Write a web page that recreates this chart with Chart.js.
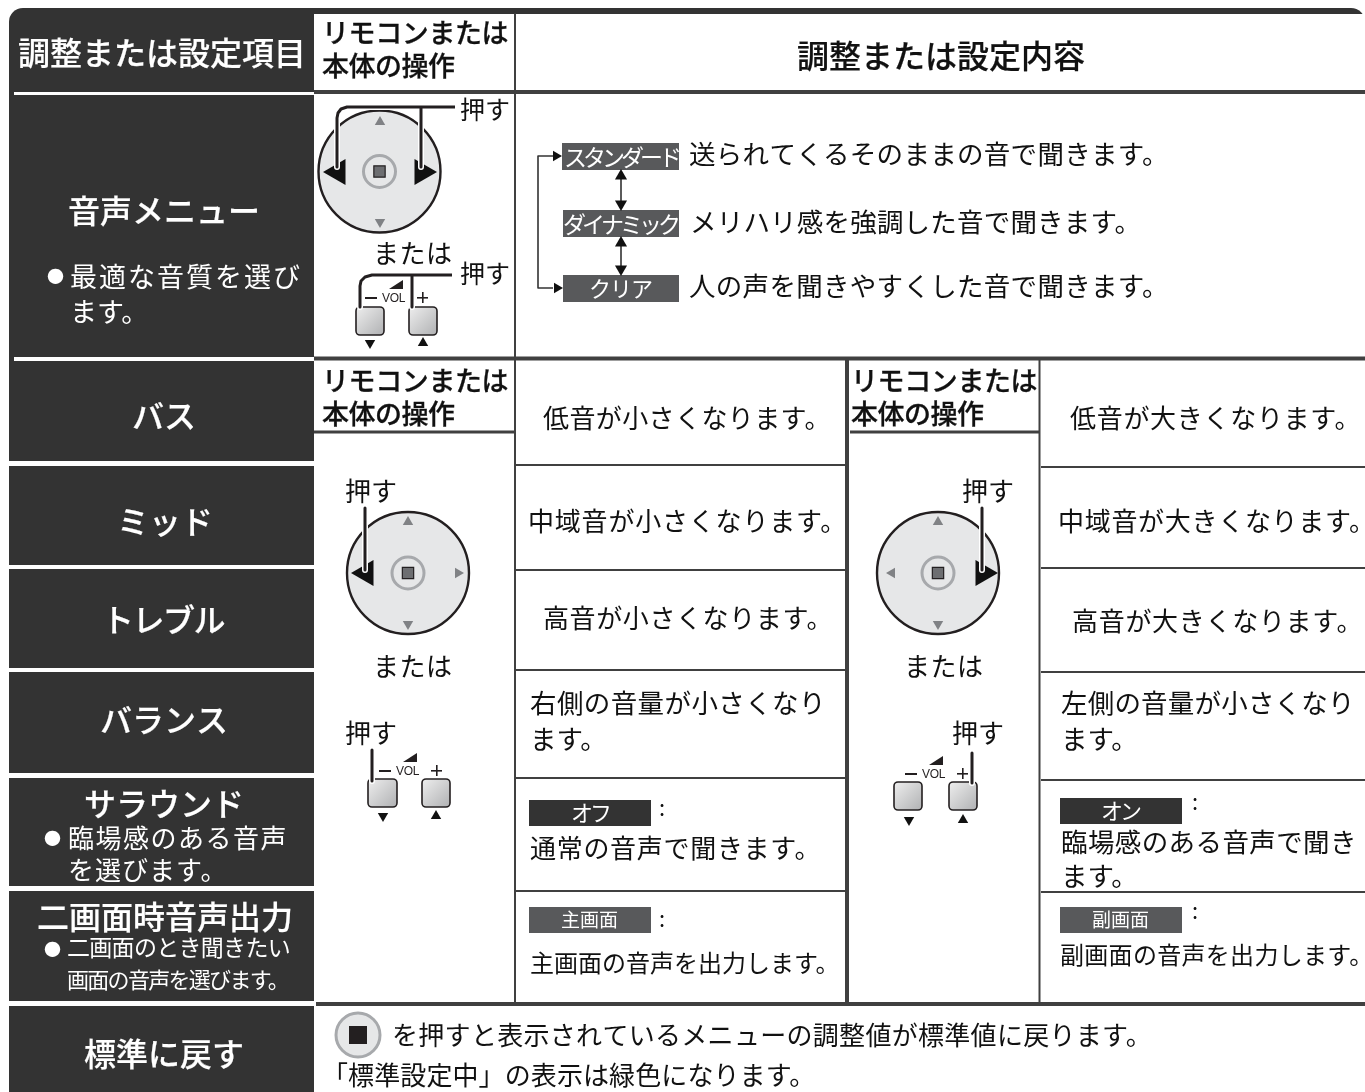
<!DOCTYPE html>
<html lang="ja"><head><meta charset="utf-8">
<style>html,body{margin:0;padding:0;background:#fff}#w{position:relative;width:1365px;height:1092px;overflow:hidden}</style>
<script src="https://cdn.jsdelivr.net/npm/chart.js@4/dist/chart.umd.min.js"></script>
</head><body><div id="w"><canvas id="c" width="1365" height="1092"></canvas></div>
<script>
// ---- content ----
const headerItem = "調整または設定項目";
const headerOp = ["リモコンまたは", "本体の操作"];
const headerContent = "調整または設定内容";
const itemLabels = ["音声メニュー", "バス", "ミッド", "トレブル", "バランス", "サラウンド", "二画面時音声出力", "標準に戻す"];
const itemNotes = ["最適な音質を選び", "ます。", "臨場感のある音声", "を選びます。", "二画面のとき聞きたい", "画面の音声を選びます。"];
const press = "押す";
const orText = "または";
const modes = ["スタンダード", "ダイナミック", "クリア"];
const modeDesc = ["送られてくるそのままの音で聞きます。", "メリハリ感を強調した音で聞きます。", "人の声を聞きやすくした音で聞きます。"];
const lowerDesc = ["低音が小さくなります。", "中域音が小さくなります。", "高音が小さくなります。", "右側の音量が小さくなり", "ます。", "通常の音声で聞きます。", "主画面の音声を出力します。"];
const raiseDesc = ["低音が大きくなります。", "中域音が大きくなります。", "高音が大きくなります。", "左側の音量が小さくなり", "ます。", "臨場感のある音声で聞き", "ます。", "副画面の音声を出力します。"];
const tags = ["オフ", "主画面", "オン", "副画面"];
const resetNotes = ["を押すと表示されているメニューの調整値が標準値に戻ります。", "「標準設定中」の表示は緑色になります。"];

// ---- layout (in axis units) ----
const DARK = "#333333", MID = "#58595b", INK = "#231f20", FACE = "#e6e7e8", GREY = "#808285";
const FONT = '"Noto Sans CJK JP","Noto Sans",sans-serif';
const seg = list => list.flatMap(([a, b, c, d]) => [{x:a,y:b},{x:c,y:d},{x:null,y:null}]);
const poly = list => list.flatMap(p => [...p.map(([x,y]) => ({x,y})), {x:null,y:null}]);
const lineDS = (data, color, width, order) => ({type:"scatter", showLine:true, data, borderColor:color, borderWidth:width, pointRadius:0, order, spanGaps:false, tension:0, fill:false, borderCapStyle:"butt", borderJoinStyle:"round"});
const ptDS = (pts, style, r, rot, bg, border, bw, order) => ({type:"scatter", showLine:false, data:pts.map(([x,y]) => ({x,y})), pointStyle:style, pointRadius:r, pointRotation:rot, pointBackgroundColor:bg, pointBorderColor:border, pointBorderWidth:bw, order});

const thick = seg([[314,92,1365,92],[314,358.5,1365,358.5],[316,1004,1365,1004]]);
const heavyV = seg([[847,360,847,1003]]);
const thinV = seg([[515,14,515,92],[515,94,515,1003],[1039.5,360,1039.5,1003]]);
const thinH = seg([[516,465,845,465],[516,570,845,570],[516,670,845,670],[516,778,845,778],[516,891,845,891],
  [1041,467,1365,467],[1041,568,1365,568],[1041,672,1365,672],[1041,780,1365,780],[1041,892,1365,892]]);
const opRule = seg([[314,432,515,432],[850,432,1039,432]]);
const wires = poly([
  [[455,107],[347,107],[341,109],[338,113],[337,118],[337,167]],
  [[421,107],[421,167]],
  [[452,275],[372,275],[365,277],[361,281],[360,286],[360,307]],
  [[412,275],[412,307]],
  [[365,508],[365,570]],
  [[372,750],[372,781]],
  [[982,508],[982,570]],
  [[972,753],[972,783]]
]);
const flowWires = poly([[[553,156],[538,156],[538,288],[553,288]],[[621,178],[621,204]],[[621,244],[621,268]]]);
const dials = [[379.5,171.5],[408,573],[938,573]];
const bigL = [[338,172],[366,573]];
const bigR = [[422,172],[983,573]];
const smallU = [[380,122],[408,522],[938,522]];
const smallD = [[380,222],[408,624],[938,624]];
const smallL = [[892,573]];
const smallR = [[458,573]];
const blackD = [[370,343],[383,816],[909,820]];
const blackU = [[423,343],[436,816],[963,820]];
const flowU = [[621,176],[621,243]];
const flowD = [[621,204],[621,269]];
const flowR = [[556,156]];
const flowRb = [[557,288]];

const panels = [[14,95,314,357],[9,361,314,461],[9,466,314,565],[9,569,314,668],[9,672,314,773],[9,778,314,886],[9,891,314,1001],[9,1006,314,1092]];
const tagBoxes = [[562,143,679,170,MID],[563,210,679,237,MID],[563,275,679,302,MID],[529,800,651,826,DARK],[529,907,651,933,MID],[1060,798,1182,824,DARK],[1060,907,1182,933,MID]];
const keys = [[356,307,384,335],[409,307,437,335],[368,779,397,807],[422,779,450,807],[894,782,922,810],[949,782,977,810]];
const volMarks = [[370,298],[384,771],[910,774]];

const HEAD = "#fff";
const texts = [
  [headerItem,18,53,32,32,HEAD,500,.2],
  [headerOp[0],322,33,26.6,27,"#111",500,.3],[headerOp[1],322,66,26.5,27,"#111",500,.3],
  [headerContent,797,56,32,32,"#111",500,.2],
  [itemLabels[0],68,211,32,32,HEAD,500,.2],
  ["●",47,277,16,17,"#fff",400,0],[itemNotes[0],70,277,29,27,"#fff",400,0],[itemNotes[1],70,312,27,27,"#fff",400,0],
  [itemLabels[1],132,416,32,32,HEAD,500,.2],[itemLabels[2],117,522,32,32,HEAD,500,.2],[itemLabels[3],102,620,30.5,32,HEAD,500,.2],[itemLabels[4],100,720,32,32,HEAD,500,.2],
  [itemLabels[5],84,804,32,32,HEAD,500,.2],
  ["●",44,839,16,17,"#fff",400,0],[itemNotes[2],68,838,27.5,26,"#fff",400,0],[itemNotes[3],68,870,27,26,"#fff",400,0],
  [itemLabels[6],37,917,32,32,HEAD,500,.2],
  ["●",44,950,16,17,"#fff",400,0],[itemNotes[4],67,947,22.3,23,"#fff",400,0],[itemNotes[5],67,980,20.3,22,"#fff",400,0],
  [itemLabels[7],84,1054,32,32,HEAD,500,.2],
  [press,460,109,25,25,"#111",400,0],[orText,373,253,26.5,26,"#111",400,0],[press,460,273,25,25,"#111",400,0],
  [modes[0],564,157,19,23,"#fff",400,0],[modes[1],563,224,19,23,"#fff",400,0],[modes[2],589,289,21,22,"#fff",400,0],
  [modeDesc[0],689,154,26.8,26.5,"#111",400,0],[modeDesc[1],690,222,26.7,26.5,"#111",400,0],[modeDesc[2],689,286,26.8,26.5,"#111",400,0],
  [headerOp[0],322,381,26.6,27,"#111",500,.3],[headerOp[1],322,414,26.5,27,"#111",500,.3],
  [headerOp[0],851,381,26.6,27,"#111",500,.3],[headerOp[1],851,414,26.5,27,"#111",500,.3],
  [lowerDesc[0],543,418,26.4,26,"#111",400,0],[lowerDesc[1],528,521,26.8,26,"#111",400,0],[lowerDesc[2],543,618,26.6,26,"#111",400,0],
  [lowerDesc[3],530,703,26.9,26.5,"#111",400,0],[lowerDesc[4],530,739,26.5,26.5,"#111",400,0],
  [lowerDesc[5],530,848,26.7,26,"#111",400,0],[lowerDesc[6],530,963,24,24,"#111",400,0],
  [raiseDesc[0],1070,418,26.7,26,"#111",400,0],[raiseDesc[1],1058,521,26.7,26,"#111",400,0],[raiseDesc[2],1072,621,26.7,26,"#111",400,0],
  [raiseDesc[3],1061,703,26.7,26.5,"#111",400,0],[raiseDesc[4],1061,739,26.5,26.5,"#111",400,0],
  [raiseDesc[5],1061,842,26.9,26.5,"#111",400,0],[raiseDesc[6],1061,876,26.5,26.5,"#111",400,0],[raiseDesc[7],1060,955,24.3,24,"#111",400,0],
  [press,345,491,26,26,"#111",400,0],[orText,373,666,26.5,26,"#111",400,0],[press,345,733,26,26,"#111",400,0],
  [press,962,491,26,26,"#111",400,0],[orText,904,666,26.5,26,"#111",400,0],[press,952,733,26,26,"#111",400,0],
  [tags[0],571,813,19,22,"#fff",400,0],[tags[1],561,920,19,19,"#fff",400,0],[tags[2],1101,811,19,22,"#fff",400,0],[tags[3],1092,920,19,19,"#fff",400,0],
  [":",659,808,8,22,"#111",400,0],[":",659,919,8,22,"#111",400,0],[":",1192,802,8,22,"#111",400,0],[":",1192,911,8,22,"#111",400,0],
  [resetNotes[0],392,1035,26.3,26,"#111",400,0],[resetNotes[1],322,1075,26.1,26,"#111",400,0]
];
const vols = ["VOL","VOL","VOL"];

const sketchPlugin = {
  id:"sketch",
  beforeDatasetsDraw(chart){
    const {ctx, scales:{x,y}} = chart;
    const X = v => x.getPixelForValue(v), Y = v => y.getPixelForValue(v);
    ctx.save();
    ctx.fillStyle = DARK;
    ctx.beginPath(); ctx.roundRect(X(9),Y(8),X(1365)-X(9),Y(92)-Y(8),[14,14,0,0]); ctx.fill();
    ctx.fillStyle = "#fff";
    ctx.fillRect(X(314),Y(14),X(1365)-X(314),Y(90)-Y(14));
    ctx.fillStyle = DARK;
    panels.forEach(([a,b,c,d]) => ctx.fillRect(X(a),Y(b),X(c)-X(a),Y(d)-Y(b)));
    ctx.fillRect(X(9),Y(92),X(14)-X(9),Y(361)-Y(92));
    tagBoxes.forEach(([a,b,c,d,col]) => {ctx.fillStyle = col; ctx.fillRect(X(a),Y(b),X(c)-X(a),Y(d)-Y(b));});
    keys.forEach(([a,b,c,d]) => {
      const g = ctx.createLinearGradient(X(a),Y(b),X(c),Y(d));
      g.addColorStop(0,"#eeeeee"); g.addColorStop(1,"#b0b1b3");
      ctx.fillStyle = g; ctx.strokeStyle = INK; ctx.lineWidth = 1.6;
      ctx.beginPath(); ctx.roundRect(X(a),Y(b),X(c)-X(a),Y(d)-Y(b),4); ctx.fill(); ctx.stroke();
    });
    ctx.restore();
  },
  afterDatasetsDraw(chart){
    const {ctx, scales:{x,y}} = chart;
    const X = v => x.getPixelForValue(v), Y = v => y.getPixelForValue(v);
    ctx.save();
    ctx.fillStyle = INK; ctx.fillRect(X(349),Y(1026),18,18);
    volMarks.forEach(([a,b]) => {
      const px = X(a), py = Y(b);
      ctx.fillStyle = INK;
      ctx.fillRect(px-5,py-1,12,2);
      ctx.beginPath(); ctx.moveTo(px+19,py-9); ctx.lineTo(px+33,py-9); ctx.lineTo(px+33,py-18); ctx.closePath(); ctx.fill();
      ctx.fillRect(px+47,py-1,11,1.6); ctx.fillRect(px+52,py-6,1.6,11);
    });
    ctx.textBaseline = "middle"; ctx.textAlign = "left";
    volMarks.forEach(([a,b],i) => {
      ctx.font = '12px "Liberation Sans",sans-serif'; ctx.letterSpacing = "-0.3px"; ctx.fillStyle = INK;
      ctx.fillText(vols[i], X(a)+12, Y(b)+1);
    });
    texts.forEach(([s,a,b,pitch,size,col,w,sw]) => {
      ctx.font = `${w} ${size}px ${FONT}`;
      ctx.letterSpacing = (pitch-size)+"px";
      ctx.fillStyle = col;
      ctx.fillText(s, X(a), Y(b));
      if (sw) { ctx.strokeStyle = col; ctx.lineWidth = sw; ctx.strokeText(s, X(a), Y(b)); }
    });
    ctx.restore();
  }
};

new Chart(document.getElementById("c"), {
  type:"scatter",
  data:{datasets:[
    lineDS(thick,"#404040",4,50),
    lineDS(heavyV,"#404040",4,50),
    lineDS(thinV,"#404040",2,50),
    lineDS(thinH,"#404040",2.2,50),
    lineDS(opRule,"#404040",3,50),
    ptDS(dials,"circle",61,0,FACE,INK,2.4,40),
    ptDS([[358,1035]],"circle",22,0,FACE,"#a7a9ac",3,40),
    ptDS(dials,"circle",16,0,FACE,"#a7a9ac",3,38),
    ptDS(dials,"rect",8,0,"#6d6e71",INK,1.2,37),
    ptDS(smallU,"triangle",6,0,GREY,GREY,0,36),
    ptDS(smallD,"triangle",6,180,GREY,GREY,0,36),
    ptDS(smallL,"triangle",6,-90,GREY,GREY,0,36),
    ptDS(smallR,"triangle",6,90,GREY,GREY,0,36),
    ptDS(bigL,"triangle",15,-90,"#111","#111",0,35),
    ptDS(bigR,"triangle",15,90,"#111","#111",0,35),
    ptDS(blackD,"triangle",6,180,"#111","#111",0,35),
    ptDS(blackU,"triangle",6,0,"#111","#111",0,35),
    lineDS(wires,"#ffffff",6,31),
    lineDS(wires,"#231f20",3,30),
    lineDS(flowWires,"#333333",1.6,30),
    ptDS(flowU,"triangle",7,0,"#111","#111",0,29),
    ptDS(flowD,"triangle",7,180,"#111","#111",0,29),
    ptDS(flowR,"triangle",6,90,"#111","#111",0,29),
    ptDS(flowRb,"triangle",6,90,"#111","#111",0,29)
  ]},
  options:{
    responsive:false, animation:false, devicePixelRatio:1,
    layout:{padding:0, autoPadding:false},
    clip:false,
    plugins:{legend:{display:false},tooltip:{enabled:false},title:{display:false}},
    scales:{
      x:{type:"linear",min:0,max:1365,display:false},
      y:{type:"linear",min:0,max:1092,reverse:true,display:false}
    }
  },
  plugins:[sketchPlugin]
});
</script></body></html>
